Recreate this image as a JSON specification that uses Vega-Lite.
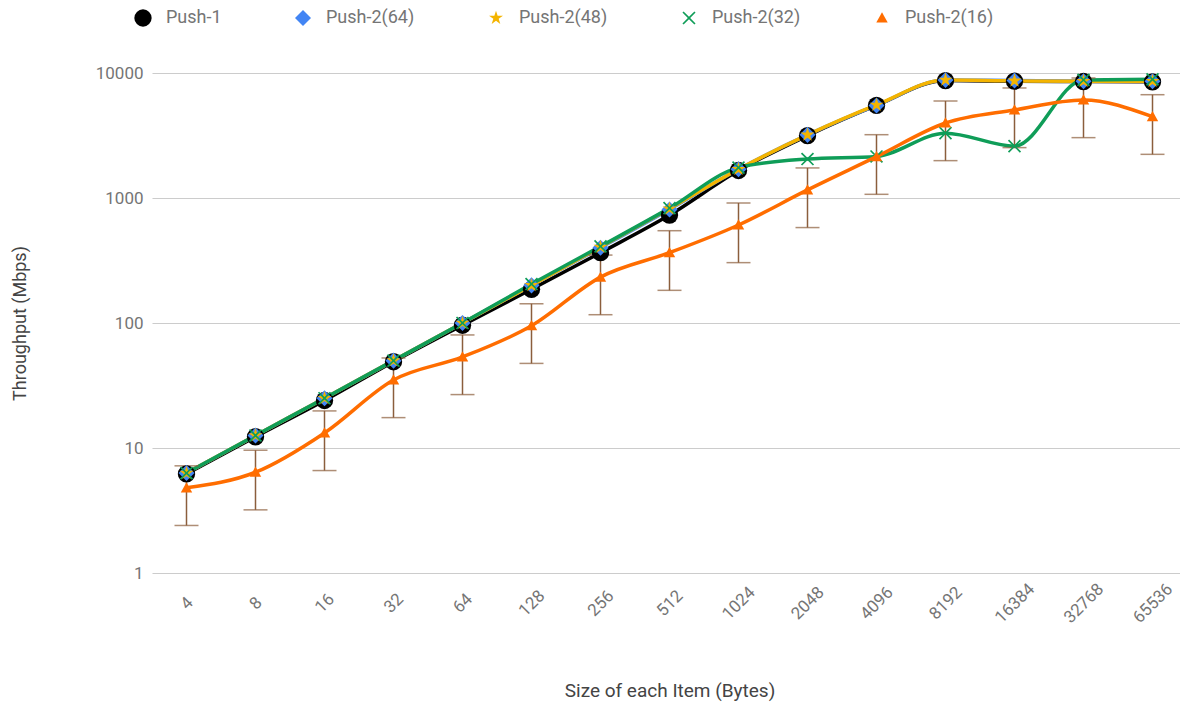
{
  "$schema": "https://vega.github.io/schema/vega-lite/v6.json",
  "autosize": {"type": "none"},
  "padding": {"left": 152, "top": 73, "right": 0, "bottom": 136},
  "width": 1035,
  "height": 500,
  "background": "#ffffff",
  "config": {
    "font": "Roboto",
    "view": {"stroke": null},
    "axis": {"labelFont": "Roboto", "titleFont": "Roboto", "titleFontWeight": "normal"}
  },
  "datasets": {
    "throughput": [
      {"size": 4, "series": "Push-1", "mbps": 6.2},
      {"size": 8, "series": "Push-1", "mbps": 12.3},
      {"size": 16, "series": "Push-1", "mbps": 24},
      {"size": 32, "series": "Push-1", "mbps": 49},
      {"size": 64, "series": "Push-1", "mbps": 96},
      {"size": 128, "series": "Push-1", "mbps": 186},
      {"size": 256, "series": "Push-1", "mbps": 365},
      {"size": 512, "series": "Push-1", "mbps": 730},
      {"size": 1024, "series": "Push-1", "mbps": 1660},
      {"size": 2048, "series": "Push-1", "mbps": 3150},
      {"size": 4096, "series": "Push-1", "mbps": 5500},
      {"size": 8192, "series": "Push-1", "mbps": 8700},
      {"size": 16384, "series": "Push-1", "mbps": 8600},
      {"size": 32768, "series": "Push-1", "mbps": 8550},
      {"size": 65536, "series": "Push-1", "mbps": 8500},

      {"size": 4, "series": "Push-2(64)", "mbps": 6.3},
      {"size": 8, "series": "Push-2(64)", "mbps": 12.6},
      {"size": 16, "series": "Push-2(64)", "mbps": 25},
      {"size": 32, "series": "Push-2(64)", "mbps": 50},
      {"size": 64, "series": "Push-2(64)", "mbps": 100},
      {"size": 128, "series": "Push-2(64)", "mbps": 200},
      {"size": 256, "series": "Push-2(64)", "mbps": 400},
      {"size": 512, "series": "Push-2(64)", "mbps": 810},
      {"size": 1024, "series": "Push-2(64)", "mbps": 1700},
      {"size": 2048, "series": "Push-2(64)", "mbps": 3200},
      {"size": 4096, "series": "Push-2(64)", "mbps": 5500},
      {"size": 8192, "series": "Push-2(64)", "mbps": 8800},
      {"size": 16384, "series": "Push-2(64)", "mbps": 8700},
      {"size": 32768, "series": "Push-2(64)", "mbps": 8600},
      {"size": 65536, "series": "Push-2(64)", "mbps": 8600},

      {"size": 4, "series": "Push-2(48)", "mbps": 6.3},
      {"size": 8, "series": "Push-2(48)", "mbps": 12.6},
      {"size": 16, "series": "Push-2(48)", "mbps": 25},
      {"size": 32, "series": "Push-2(48)", "mbps": 50},
      {"size": 64, "series": "Push-2(48)", "mbps": 100},
      {"size": 128, "series": "Push-2(48)", "mbps": 200},
      {"size": 256, "series": "Push-2(48)", "mbps": 405},
      {"size": 512, "series": "Push-2(48)", "mbps": 820},
      {"size": 1024, "series": "Push-2(48)", "mbps": 1700},
      {"size": 2048, "series": "Push-2(48)", "mbps": 3200},
      {"size": 4096, "series": "Push-2(48)", "mbps": 5550},
      {"size": 8192, "series": "Push-2(48)", "mbps": 8800},
      {"size": 16384, "series": "Push-2(48)", "mbps": 8650},
      {"size": 32768, "series": "Push-2(48)", "mbps": 8600},
      {"size": 65536, "series": "Push-2(48)", "mbps": 8600},

      {"size": 4, "series": "Push-2(32)", "mbps": 6.3},
      {"size": 8, "series": "Push-2(32)", "mbps": 12.6},
      {"size": 16, "series": "Push-2(32)", "mbps": 25},
      {"size": 32, "series": "Push-2(32)", "mbps": 50},
      {"size": 64, "series": "Push-2(32)", "mbps": 100},
      {"size": 128, "series": "Push-2(32)", "mbps": 205},
      {"size": 256, "series": "Push-2(32)", "mbps": 410},
      {"size": 512, "series": "Push-2(32)", "mbps": 830},
      {"size": 1024, "series": "Push-2(32)", "mbps": 1750},
      {"size": 2048, "series": "Push-2(32)", "mbps": 2050},
      {"size": 4096, "series": "Push-2(32)", "mbps": 2150},
      {"size": 8192, "series": "Push-2(32)", "mbps": 3300},
      {"size": 16384, "series": "Push-2(32)", "mbps": 2600},
      {"size": 32768, "series": "Push-2(32)", "mbps": 8800},
      {"size": 65536, "series": "Push-2(32)", "mbps": 8900},

      {"size": 4, "series": "Push-2(16)", "mbps": 4.8, "lo": 2.4, "hi": 7.2},
      {"size": 8, "series": "Push-2(16)", "mbps": 6.4, "lo": 3.2, "hi": 9.6},
      {"size": 16, "series": "Push-2(16)", "mbps": 13.2, "lo": 6.6, "hi": 19.8},
      {"size": 32, "series": "Push-2(16)", "mbps": 35, "lo": 17.5, "hi": 52.5},
      {"size": 64, "series": "Push-2(16)", "mbps": 53.5, "lo": 26.75, "hi": 80.25},
      {"size": 128, "series": "Push-2(16)", "mbps": 95, "lo": 47.5, "hi": 142.5},
      {"size": 256, "series": "Push-2(16)", "mbps": 233, "lo": 116.5, "hi": 349.5},
      {"size": 512, "series": "Push-2(16)", "mbps": 365, "lo": 182.5, "hi": 547.5},
      {"size": 1024, "series": "Push-2(16)", "mbps": 608, "lo": 304, "hi": 912},
      {"size": 2048, "series": "Push-2(16)", "mbps": 1160, "lo": 580, "hi": 1740},
      {"size": 4096, "series": "Push-2(16)", "mbps": 2140, "lo": 1070, "hi": 3210},
      {"size": 8192, "series": "Push-2(16)", "mbps": 3980, "lo": 1990, "hi": 5970},
      {"size": 16384, "series": "Push-2(16)", "mbps": 5060, "lo": 2530, "hi": 7590},
      {"size": 32768, "series": "Push-2(16)", "mbps": 6080, "lo": 3040, "hi": 9120},
      {"size": 65536, "series": "Push-2(16)", "mbps": 4470, "lo": 2235, "hi": 6705}
    ]
  },
  "data": {"name": "throughput"},
  "encoding": {
    "x": {
      "field": "size",
      "type": "ordinal",
      "scale": {"type": "point", "padding": 0.5},
      "axis": {
        "title": "Size of each Item (Bytes)",
        "titleFontSize": 19,
        "titleColor": "#444444",
        "titlePadding": 56,
        "labelAngle": -45,
        "labelAlign": "center",
        "labelBaseline": "middle",
        "labelPadding": 30,
        "labelFontSize": 17,
        "labelColor": "#757575",
        "domain": false,
        "ticks": false,
        "grid": false
      }
    }
  },
  "layer": [
    {
      "mark": {"type": "line", "interpolate": "monotone", "strokeWidth": 3.5},
      "encoding": {
        "y": {
          "field": "mbps",
          "type": "quantitative",
          "scale": {"type": "log", "domain": [1, 10000], "nice": false},
          "axis": {
            "title": "Throughput (Mbps)",
            "titleFontSize": 18,
            "titleColor": "#444444",
            "titlePadding": 66,
            "values": [1, 10, 100, 1000, 10000],
            "format": "d",
            "labelFontSize": 17,
            "labelColor": "#757575",
            "labelPadding": 9,
            "domain": false,
            "ticks": false,
            "gridColor": "#cccccc",
            "gridWidth": 1.2
          }
        },
        "color": {
          "field": "series",
          "type": "nominal",
          "sort": null,
          "scale": {
            "domain": ["Push-1", "Push-2(64)", "Push-2(48)", "Push-2(32)", "Push-2(16)"],
            "range": ["#000000", "#4285F4", "#F4B400", "#0F9D58", "#FF6D00"]
          },
          "legend": {
            "title": null,
            "orient": "none",
            "direction": "horizontal",
            "legendX": -18,
            "legendY": -64,
            "symbolSize": 330,
            "symbolStrokeWidth": 0,
            "labelFontSize": 18,
            "labelColor": "#757575",
            "labelOffset": 14,
            "columnPadding": 72,
            "padding": 0
          }
        }
      }
    },
    {
      "transform": [{"filter": "datum.lo != null"}],
      "mark": {"type": "rule", "color": "#8B5E3C", "strokeWidth": 1.5},
      "encoding": {
        "y": {"field": "lo", "type": "quantitative"},
        "y2": {"field": "hi"}
      }
    },
    {
      "transform": [{"filter": "datum.lo != null"}],
      "mark": {"type": "tick", "color": "#8B5E3C", "size": 24, "thickness": 1.5, "orient": "horizontal"},
      "encoding": {"y": {"field": "lo", "type": "quantitative"}}
    },
    {
      "transform": [{"filter": "datum.hi != null"}],
      "mark": {"type": "tick", "color": "#8B5E3C", "size": 24, "thickness": 1.5, "orient": "horizontal"},
      "encoding": {"y": {"field": "hi", "type": "quantitative"}}
    },
    {
      "mark": {"type": "point", "filled": true, "opacity": 1, "strokeWidth": 0},
      "encoding": {
        "y": {"field": "mbps", "type": "quantitative"},
        "color": {
          "field": "series",
          "type": "nominal",
          "sort": null,
          "legend": {
            "title": null,
            "orient": "none",
            "direction": "horizontal",
            "legendX": -18,
            "legendY": -64,
            "symbolSize": 330,
            "symbolStrokeWidth": 0,
            "labelFontSize": 18,
            "labelColor": "#757575",
            "labelOffset": 14,
            "columnPadding": 72,
            "padding": 0
          }
        },
        "shape": {
          "field": "series",
          "type": "nominal",
          "sort": null,
          "scale": {
            "domain": ["Push-1", "Push-2(64)", "Push-2(48)", "Push-2(32)", "Push-2(16)"],
            "range": [
              "circle",
              "diamond",
              "M0,-1L0.2245,-0.309L0.951,-0.309L0.363,0.118L0.588,0.809L0,0.382L-0.588,0.809L-0.363,0.118L-0.951,-0.309L-0.2245,-0.309Z",
              "M-1,-0.82L-0.82,-1L0,-0.18L0.82,-1L1,-0.82L0.18,0L1,0.82L0.82,1L0,0.18L-0.82,1L-1,0.82L-0.18,0Z",
              "M0,-1L1,0.8L-1,0.8Z"
            ]
          },
          "legend": {
            "title": null,
            "orient": "none",
            "direction": "horizontal",
            "legendX": -18,
            "legendY": -64,
            "symbolSize": 330,
            "symbolStrokeWidth": 0,
            "labelFontSize": 18,
            "labelColor": "#757575",
            "labelOffset": 14,
            "columnPadding": 72,
            "padding": 0
          }
        },
        "size": {
          "field": "series",
          "type": "nominal",
          "sort": null,
          "scale": {
            "domain": ["Push-1", "Push-2(64)", "Push-2(48)", "Push-2(32)", "Push-2(16)"],
            "range": [300, 130, 200, 170, 260]
          },
          "legend": null
        }
      }
    }
  ]
}
